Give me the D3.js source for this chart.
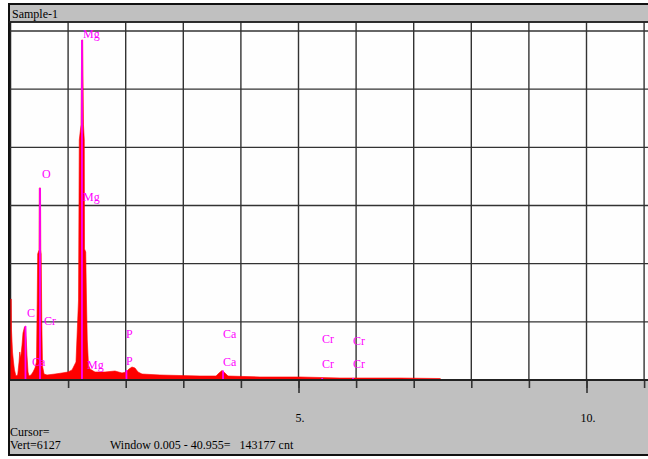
<!DOCTYPE html>
<html>
<head>
<meta charset="utf-8">
<script src="https://cdn.jsdelivr.net/npm/d3@7"></script>
<style>
  body { margin: 0; background: #fff; }
  svg text { font-family: 'Liberation Serif'; }
</style>
</head>
<body>
<svg></svg>
<script>
/* spectrum data, energy in keV and counts per channel */
var energy = [0.005, 0.012, 0.017, 0.035, 0.052, 0.069, 0.095, 0.125, 0.148, 0.161,
  0.177, 0.200, 0.217, 0.243, 0.260, 0.274, 0.286, 0.304, 0.321, 0.356,
  0.391, 0.425, 0.451, 0.464, 0.472, 0.495, 0.500, 0.521, 0.526, 0.533,
  0.543, 0.556, 0.582, 0.634, 0.773, 0.894, 0.998, 1.068, 1.137, 1.181,
  1.194, 1.224, 1.236, 1.253, 1.267, 1.281, 1.285, 1.306, 1.319, 1.333,
  1.354, 1.380, 1.467, 1.641, 1.814, 1.936, 2.005, 2.057, 2.109, 2.161,
  2.214, 2.283, 2.595, 2.943, 3.290, 3.568, 3.620, 3.672, 3.724, 3.776,
  4.332, 5.026, 5.720, 6.762, 7.457, 7.490];
var counts = [1422, 1422, 878, 492, 316, 176, 70, 88, 316, 492,
  386, 615, 825, 931, 948, 702, 439, 140, 70, 88,
  140, 211, 316, 1405, 2213, 2283, 3372, 3372, 2283, 2213,
  1054, 246, 105, 88, 105, 123, 140, 176, 316, 1405,
  4214, 4478, 5970, 5970, 4478, 4214, 2300, 2248, 1405, 702,
  263, 193, 140, 140, 158, 123, 140, 193, 228, 211,
  140, 105, 88, 79, 70, 70, 123, 167, 123, 70,
  53, 53, 35, 35, 26, 0];

/* element markers */
var markerEl = ['C', 'O', 'Mg', 'P', 'Ca', 'Cr', 'Cr'];
var markerKeV = [0.260, 0.512, 1.241, 2.013, 3.690, 5.411, 5.946];
var markerCounts = [948, 3372, 5970, 176, 167, 35, 35];

/* element labels */
var labelText = ['Mg', 'Mg', 'O', 'C', 'Cr', 'Ca', 'Mg', 'P', 'P', 'Ca', 'Ca', 'Cr', 'Cr', 'Cr', 'Cr'];
var labelKeV = [1.259, 1.259, 0.547, 0.286, 0.582, 0.373, 1.328, 2.005, 2.005, 3.689, 3.689, 5.408, 5.408, 5.946, 5.946];
var labelCounts = [6075, 3213, 3617, 1176, 1036, 316, 263, 808, 334, 808, 316, 720, 281, 685, 281];

/* axis */
var xTicks = [1, 2, 3, 4, 5, 6, 7, 8, 9, 10, 11];
var xLabelTicks = [5, 10];
var fullScale = 6127;
var yDivisions = [1, 2, 3, 4, 5, 6];

/* texts */
var title = 'Sample-1';
var cursorText = 'Cursor=';
var vertText = 'Vert=6127';
var windowText = 'Window 0.005 - 40.955=\u00a0\u00a0\u00a0143177 cnt';

/* svg setting */
var svgWidth = 648;
var svgHeight = 459;
var serif = 'Liberation Serif';
var frame = {left: 9, top: 4, right: 648, bottom: 455};
var plot = {left: 10, top: 22, right: 648, bottom: 380, ytop: 31};
var scale = {};

var svg = d3.select('svg')
    .attr('width', svgWidth)
    .attr('height', svgHeight)
    .attr('font-family', serif);

setScale();
drawFrame();
drawGrid();
drawSpectrum();
drawMarkers();
drawAxis();
drawTexts();

function setScale(){
  scale.x = d3.scaleLinear()
      .domain([0, 11])
      .range([10.5, 10.5 + 11 * 57.6]);
  scale.y = d3.scaleLinear()
      .domain([0, fullScale])
      .range([plot.bottom, plot.ytop]);
}

function drawFrame(){
  // gray panel with border
  svg.append('rect')
      .attr('x', frame.left).attr('y', frame.top)
      .attr('width', frame.right - frame.left + 2)
      .attr('height', frame.bottom - frame.top)
      .attr('fill', '#c0c0c0')
      .attr('stroke', '#111')
      .attr('stroke-width', 2);
  // white plotting area
  svg.append('rect')
      .attr('x', plot.left + 0.5).attr('y', plot.top)
      .attr('width', plot.right - plot.left + 2)
      .attr('height', plot.bottom - plot.top)
      .attr('fill', '#fefefe')
      .attr('stroke', '#222')
      .attr('stroke-width', 1.5);
}

function drawGrid(){
  var g = svg.append('g').attr('class', 'grid');
  g.selectAll('line.h')
      .data(yDivisions)
      .enter()
      .append('line')
      .attr('class', 'h')
      .attr('x1', plot.left).attr('x2', plot.right + 2)
      .attr('y1', function(d){ return scale.y(d * fullScale / 6); })
      .attr('y2', function(d){ return scale.y(d * fullScale / 6); })
      .attr('stroke', '#333')
      .attr('stroke-width', 1.4);
  g.selectAll('line.v')
      .data(xTicks)
      .enter()
      .append('line')
      .attr('class', 'v')
      .attr('x1', function(d){ return scale.x(d); })
      .attr('x2', function(d){ return scale.x(d); })
      .attr('y1', plot.top).attr('y2', plot.bottom)
      .attr('stroke', '#333')
      .attr('stroke-width', 1.4);
}

function drawSpectrum(){
  var data = energy.map(function(e, i){ return {x: e, y: counts[i]}; });
  var area = d3.area()
      .x(function(d){ return scale.x(d.x); })
      .y0(scale.y(0))
      .y1(function(d){ return scale.y(d.y); });
  svg.append('path')
      .datum(data)
      .attr('d', area)
      .attr('fill', '#ff0000')
      .attr('stroke', '#ff0000')
      .attr('stroke-width', 0.6);
}

function drawMarkers(){
  svg.selectAll('line.marker')
      .data(markerKeV)
      .enter()
      .append('line')
      .attr('class', 'marker')
      .attr('x1', function(d){ return scale.x(d); })
      .attr('x2', function(d){ return scale.x(d); })
      .attr('y1', scale.y(0))
      .attr('y2', function(d, i){ return scale.y(markerCounts[i]); })
      .attr('stroke', '#ff00ff')
      .attr('stroke-width', 1.8);

  svg.selectAll('text.label')
      .data(labelText)
      .enter()
      .append('text')
      .attr('class', 'label')
      .attr('x', function(d, i){ return scale.x(labelKeV[i]); })
      .attr('y', function(d, i){ return scale.y(labelCounts[i]); })
      .attr('dy', '0.35em')
      .attr('font-size', 12)
      .attr('fill', '#ff00ff')
      .text(function(d){ return d; });
}

function drawAxis(){
  var minor = d3.axisBottom(scale.x)
      .tickValues(xTicks)
      .tickSize(8)
      .tickFormat('');
  var major = d3.axisBottom(scale.x)
      .tickValues(xLabelTicks)
      .tickSize(13)
      .tickPadding(20)
      .tickFormat(function(d){ return d + '.'; });

  var gMinor = svg.append('g')
      .attr('transform', translate(0, plot.bottom))
      .call(minor);
  var gMajor = svg.append('g')
      .attr('transform', translate(0, plot.bottom))
      .call(major);
  [gMinor, gMajor].forEach(function(g){
    g.attr('font-family', serif);
    g.select('.domain').remove();
    g.selectAll('line').attr('stroke', '#333').attr('stroke-width', 1.6);
  });
  gMajor.selectAll('text')
      .attr('font-size', 12)
      .attr('fill', '#000')
      .attr('dx', 1);

  svg.append('line')
      .attr('x1', plot.left).attr('x2', plot.right + 2)
      .attr('y1', plot.bottom).attr('y2', plot.bottom)
      .attr('stroke', '#222')
      .attr('stroke-width', 2);
}

function drawTexts(){
  svg.append('line')
      .attr('x1', frame.left).attr('x2', frame.right + 2)
      .attr('y1', plot.top).attr('y2', plot.top)
      .attr('stroke', '#222')
      .attr('stroke-width', 1.5);
  var t = svg.append('g')
      .attr('font-size', 12);
  t.append('text')
      .attr('x', 12).attr('y', 18)
      .text(title);
  t.append('text')
      .attr('x', 10).attr('y', 436)
      .text(cursorText);
  t.append('text')
      .attr('x', 10).attr('y', 449)
      .text(vertText);
  t.append('text')
      .attr('x', 110).attr('y', 449)
      .text(windowText);
}

function translate(x, y) {
  return 'translate(' + x + ',' + y + ')';
}
</script>
</body>
</html>
